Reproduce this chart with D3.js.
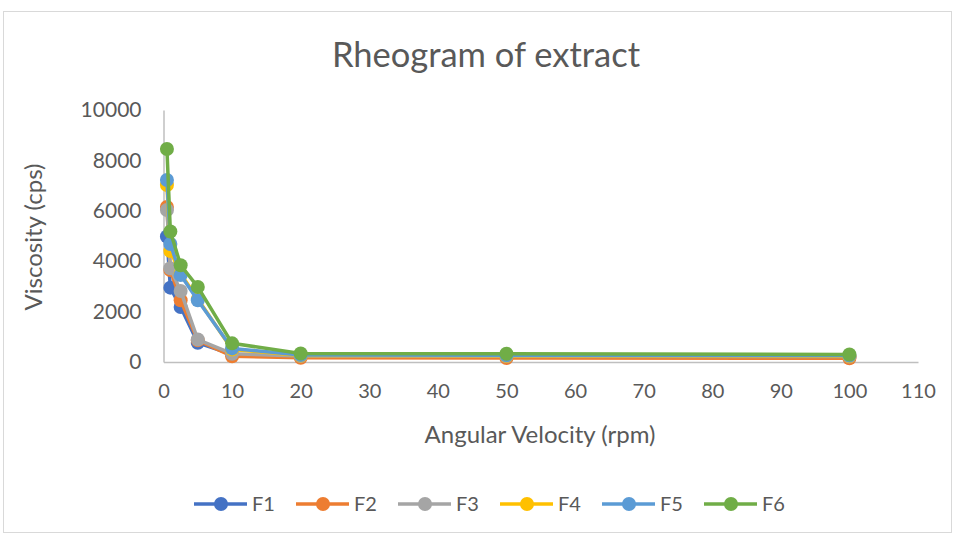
<!DOCTYPE html>
<html>
<head>
<meta charset="utf-8">
<script src="https://cdn.jsdelivr.net/npm/d3@7"></script>
<style>
  body { margin: 0; background: #fff; }
  text { font-family: Lato, "Liberation Sans", sans-serif; fill: #595959; }
</style>
</head>
<body>
<svg id="chart" width="955" height="536"></svg>
<script>
// vitesses angulaires (rpm)
const speeds = [0.5, 1, 2.5, 5, 10, 20, 50, 100];

// viscosité (cps)
const f1 = [4980, 2950, 2180, 760, 300, 230, 210, 200];
const f2 = [6150, 3650, 2450, 860, 230, 170, 160, 150];
const f3 = [6030, 3720, 2820, 890, 330, 240, 230, 220];
const f4 = [7020, 4400, 3500, 2500, 500, 260, 250, 240];
const f5 = [7220, 4680, 3450, 2450, 540, 280, 270, 260];
const f6 = [8450, 5180, 3840, 2980, 740, 340, 330, 300];

const seriesNames = ["F1", "F2", "F3", "F4", "F5", "F6"];
const seriesValues = [f1, f2, f3, f4, f5, f6];
const colors = ["#4472C4", "#ED7D31", "#A5A5A5", "#FFC000", "#5B9BD5", "#70AD47"];

const xTicks = d3.range(0, 111, 10);
const yTicks = d3.range(0, 10001, 2000);

const svg = d3.select("#chart");

// cadre du graphique
svg.append("rect")
  .attr("x", 3.5).attr("y", 11.5)
  .attr("width", 948).attr("height", 521)
  .attr("fill", "#fff")
  .attr("stroke", "#D9D9D9");

const x = d3.scaleLinear().domain([0, 110]).range([163.5, 918]);
const y = d3.scaleLinear().domain([0, 10000]).range([362, 110]);

// axes
const xAxis = svg.append("g")
  .attr("transform", `translate(0,${y(0)})`)
  .call(d3.axisBottom(x).tickValues(xTicks).tickSize(0).tickPadding(22));
xAxis.select(".domain").attr("stroke", "#BFBFBF").attr("stroke-width", 1.5);
xAxis.selectAll("text").style("font-size", "20px").attr("fill", "#595959");

const yAxis = svg.append("g")
  .attr("transform", `translate(${x(0)},0)`)
  .call(d3.axisLeft(y).tickValues(yTicks).tickFormat(d3.format("d")).tickSize(0).tickPadding(22));
yAxis.select(".domain").attr("stroke", "#BFBFBF").attr("stroke-width", 1.5);
yAxis.selectAll("text").style("font-size", "21px").attr("fill", "#595959");

// titres
svg.append("text")
  .attr("x", 486).attr("y", 67)
  .attr("text-anchor", "middle")
  .style("font-size", "34.5px")
  .text("Rheogram of extract");

svg.append("text")
  .attr("x", 540).attr("y", 443)
  .attr("text-anchor", "middle")
  .style("font-size", "24px")
  .text("Angular Velocity (rpm)");

svg.append("text")
  .attr("transform", "translate(42,237) rotate(-90)")
  .attr("text-anchor", "middle")
  .style("font-size", "24px")
  .text("Viscosity (cps)");

// séries
const line = d3.line()
  .x((d) => x(d[0]))
  .y((d) => y(d[1]));

seriesValues.forEach((vals, i) => {
  const pts = speeds.map((s, k) => [s, vals[k]]);
  const g = svg.append("g");
  g.append("path")
    .datum(pts)
    .attr("d", line)
    .attr("fill", "none")
    .attr("stroke", colors[i])
    .attr("stroke-width", 3.5)
    .attr("stroke-linejoin", "round");
  g.selectAll("circle")
    .data(pts)
    .enter()
    .append("circle")
    .attr("cx", (d) => x(d[0]))
    .attr("cy", (d) => y(d[1]))
    .attr("r", 7)
    .attr("fill", colors[i]);
});

// légende
const legend = svg.append("g").attr("transform", "translate(194,504)");
seriesNames.forEach((name, i) => {
  const lg = legend.append("g").attr("transform", `translate(${i * 102},0)`);
  lg.append("line")
    .attr("x1", 0).attr("x2", 53)
    .attr("y1", 0).attr("y2", 0)
    .attr("stroke", colors[i])
    .attr("stroke-width", 3.5);
  lg.append("circle")
    .attr("cx", 27).attr("cy", 0).attr("r", 7)
    .attr("fill", colors[i]);
  lg.append("text")
    .attr("x", 58).attr("y", 7)
    .style("font-size", "20px")
    .text(name);
});
</script>
</body>
</html>
